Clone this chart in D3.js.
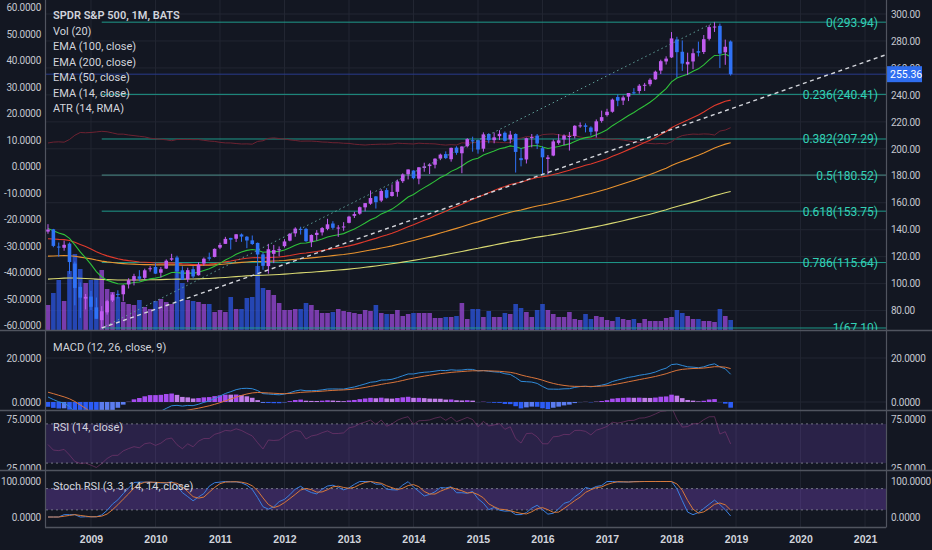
<!DOCTYPE html>
<html>
<head>
<meta charset="utf-8">
<script src="https://cdn.jsdelivr.net/npm/d3@7"></script>
<style>
  body { margin: 0; background: #131722; }
  svg { display: block; font-family: Roboto, "Open Sans", sans-serif; }
</style>
</head>
<body>
<div id="chart"></div>
<script>
// SPY monthly bars, May 2008 .. Dec 2018
const opens = [
  138.6, 140.3, 127.5, 126.6, 129.7, 114.9, 97.6, 88.9,
  90.4, 82.4, 72.9, 78.7, 87.5, 92.4, 92.1, 99.4, 102.3, 105.4, 104.3, 111.1,
  112.4, 108.1, 111.2, 117.8, 119.4, 109.9, 103.2, 110.7, 106.2, 114.9, 119.5, 119.8,
  126.7, 129.5, 133.9, 133.3, 136.5, 134.8, 132.1, 130.2, 121.7, 113.0, 122.1, 124.9,
  127.8, 131.9, 137.3, 140.6, 140.6, 131.0, 136.1, 138.0, 140.6, 144.6, 141.6, 142.2,
  145.1, 150.3, 151.9, 156.6, 159.3, 164.7, 161.6, 169.4, 165.0, 168.1, 176.0, 181.1,
  183.9, 177.9, 185.8, 187.2, 188.2, 192.8, 196.1, 192.3, 200.9, 196.7, 201.9, 206.4,
  206.4, 200.1, 211.0, 206.4, 209.4, 211.9, 207.0, 211.0, 193.1, 192.1, 208.2, 209.8,
  200.5, 192.5, 195.0, 204.4, 206.9, 209.1, 209.5, 217.2, 217.4, 215.8, 212.9, 220.7,
  225.0, 227.5, 238.4, 235.8, 238.7, 241.9, 242.9, 247.5, 247.9, 251.5, 258.0, 264.8,
  267.8, 281.1, 272.0, 262.6, 264.8, 272.4, 271.8, 281.6, 290.6, 291.2, 271.6, 279.6
];
const highs = [
  144.1, 140.6, 130.5, 131.9, 130.6, 116.4, 100.9, 92.3,
  94.6, 89.7, 83.3, 88.0, 93.3, 95.1, 99.3, 104.0, 107.3, 110.0, 111.1, 113.0,
  115.1, 112.3, 118.0, 122.1, 120.7, 112.9, 111.8, 113.0, 115.8, 119.4, 123.0, 126.1,
  130.3, 134.7, 134.0, 136.8, 137.2, 135.3, 135.7, 130.5, 123.1, 129.5, 128.7, 127.6,
  133.0, 137.5, 141.8, 142.2, 141.4, 136.5, 139.7, 142.0, 148.1, 146.3, 143.4, 145.6,
  150.3, 153.3, 157.2, 159.7, 169.1, 165.0, 170.0, 170.9, 173.6, 177.2, 181.8, 184.7,
  184.1, 186.4, 189.7, 189.3, 193.0, 196.4, 198.1, 200.9, 201.9, 201.9, 207.9, 209.0,
  206.9, 212.2, 211.6, 212.1, 213.8, 212.9, 213.3, 211.5, 200.6, 208.3, 211.0, 211.0,
  201.9, 195.4, 206.9, 210.9, 210.7, 212.5, 217.5, 219.6, 218.9, 216.7, 221.8, 228.3,
  229.7, 237.3, 240.3, 239.5, 240.8, 245.0, 248.0, 248.9, 252.3, 258.0, 266.1, 268.6,
  286.6, 283.1, 280.4, 271.3, 274.3, 279.5, 284.4, 291.7, 293.94, 292.9, 281.0, 280.4
];
const lows = [
  137.0, 127.0, 120.0, 124.4, 107.2, 83.9, 74.6, 80.9,
  80.4, 73.9, 67.1, 77.0, 86.4, 89.0, 86.9, 96.4, 98.7, 101.9, 102.9, 108.9,
  107.2, 104.6, 110.9, 116.8, 104.4, 102.9, 101.1, 104.0, 106.0, 113.2, 117.0, 119.5,
  125.6, 129.4, 125.3, 130.9, 131.0, 126.3, 128.7, 107.4, 110.3, 107.4, 115.2, 120.3,
  126.8, 131.4, 134.8, 136.4, 131.0, 127.1, 131.9, 135.7, 139.6, 140.1, 134.7, 139.2,
  144.7, 148.7, 151.1, 153.6, 158.5, 155.7, 160.5, 163.1, 164.5, 164.5, 174.7, 177.3,
  177.4, 173.7, 183.0, 181.3, 185.5, 191.6, 192.4, 190.5, 195.6, 181.9, 201.0, 197.9,
  196.4, 197.9, 204.1, 204.1, 206.5, 205.3, 204.0, 182.4, 187.0, 189.1, 201.1, 199.8,
  181.0, 181.1, 194.5, 203.1, 202.8, 198.7, 207.7, 215.6, 212.2, 209.8, 208.4, 219.4,
  223.9, 226.8, 231.6, 232.5, 235.4, 240.5, 240.9, 242.9, 246.4, 251.2, 255.5, 262.5,
  267.4, 252.9, 257.8, 254.7, 259.1, 268.5, 270.3, 280.4, 286.7, 259.9, 262.3, 254.3
];
const closes = [
  140.1, 128.0, 126.8, 128.8, 116.0, 96.8, 89.6, 90.2,
  82.8, 73.9, 79.5, 87.0, 91.9, 92.0, 98.8, 102.5, 105.6, 103.6, 109.9, 111.4,
  107.4, 110.7, 117.0, 118.8, 109.4, 102.9, 110.0, 105.3, 114.1, 118.5, 118.5, 125.8,
  128.7, 133.2, 132.6, 136.6, 134.9, 132.0, 129.4, 121.6, 113.2, 125.5, 124.9, 125.5,
  131.3, 137.0, 140.8, 139.9, 131.5, 136.1, 137.7, 141.2, 144.0, 141.4, 141.6, 142.4,
  149.7, 151.6, 156.7, 159.7, 163.5, 160.4, 168.7, 163.7, 168.0, 175.8, 181.0, 184.7,
  178.2, 186.3, 187.0, 188.3, 192.7, 195.7, 193.1, 200.7, 197.0, 201.7, 207.2, 205.5,
  199.5, 210.7, 206.4, 208.5, 211.1, 205.9, 210.5, 197.7, 191.6, 207.9, 208.7, 203.9,
  193.7, 193.6, 205.5, 206.3, 209.8, 209.5, 217.1, 217.4, 216.3, 212.6, 220.4, 223.5,
  227.5, 236.5, 235.7, 238.1, 241.4, 241.8, 246.8, 247.5, 251.2, 257.2, 265.0, 266.9,
  281.9, 271.7, 263.2, 264.5, 270.9, 271.3, 281.3, 290.3, 290.7, 270.6, 275.7, 255.36
];
// volume (BATS, relative units)
const volumes = [
  50, 74, 100, 58, 118, 152, 122, 94,
  100, 102, 120, 82, 76, 66, 56, 52, 50, 60, 46, 42,
  58, 62, 56, 52, 128, 94, 60, 58, 56, 52, 52, 36,
  40, 36, 66, 42, 42, 64, 66, 128, 84, 80, 70, 54,
  40, 40, 42, 42, 54, 50, 40, 34, 34, 36, 42, 38,
  36, 34, 32, 40, 38, 50, 34, 32, 32, 40, 28, 32,
  34, 34, 34, 34, 24, 24, 26, 26, 28, 54, 22, 42,
  42, 26, 38, 26, 26, 34, 32, 52, 44, 36, 26, 40,
  52, 40, 32, 26, 26, 36, 22, 20, 32, 22, 28, 26,
  20, 18, 26, 22, 20, 22, 14, 22, 18, 18, 18, 24,
  26, 40, 34, 28, 22, 22, 18, 18, 16, 42, 28, 20
];
const prevClose = 138.3;       // Apr 2008 close

// indicator state just before the first visible bar
const ema14Start = 141, ema50Start = 133, ema100Start = 120, ema200Start = 103;
const ema12Start = 140.5, ema26Start = 138.0, signalStart = 5.0;
const atrStart = 9.0;
const rsiGainStart = 3.6, rsiLossStart = 3.9;

// fib retracement (Mar 2009 low -> Sep 2018 high)
const fibRatios = [0, 0.236, 0.382, 0.5, 0.618, 0.786, 1];
const fibLevels = [293.94, 240.41, 207.29, 180.52, 153.75, 115.64, 67.10];
const fibStart = { bar: 10, price: 67.10 };
const fibEnd = { bar: 124, price: 293.94 };
// trend line through the 2009 and 2016 lows, extended right
const trendA = { bar: 10, price: 67.10 };
const trendB = { bar: 92, price: 181.02 };
const lastPrice = 255.36;

const yearLabels = ["2009", "2010", "2011", "2012", "2013", "2014", "2015",
                    "2016", "2017", "2018", "2019", "2020", "2021"];
const priceTicks = [80, 100, 120, 140, 160, 180, 200, 220, 240, 260, 280, 300];
const atrTicks = [-60, -50, -40, -30, -20, -10, 0, 10, 20, 30, 40, 50, 60];
const macdTicks = [0, 20];
const rsiTicks = [25, 75];
const stochTicks = [0, 100];

// ---- indicators
function ema(values, period, start) {
  const a = 2 / (period + 1);
  let e = start;
  return values.map(v => (e = e + a * (v - e)));
}
function rma(values, period, start) {
  let r = start;
  return values.map(v => (r = r + (v - r) / period));
}
function sma(values, period) {
  return values.map((v, i) => d3.mean(values.slice(Math.max(0, i - period + 1), i + 1)));
}

const prev = closes.map((c, i) => i === 0 ? prevClose : closes[i - 1]);
const tr = highs.map((h, i) => Math.max(h - lows[i], Math.abs(h - prev[i]), Math.abs(lows[i] - prev[i])));
const atr = rma(tr, 14, atrStart);

const ema14 = ema(closes, 14, ema14Start);
const ema50 = ema(closes, 50, ema50Start);
const ema100 = ema(closes, 100, ema100Start);
const ema200 = ema(closes, 200, ema200Start);

const e12 = ema(closes, 12, ema12Start);
const e26 = ema(closes, 26, ema26Start);
const macd = e12.map((v, i) => v - e26[i]);
const signal = ema(macd, 9, signalStart);
const hist = macd.map((v, i) => v - signal[i]);

const gains = closes.map((c, i) => Math.max(c - prev[i], 0));
const losses = closes.map((c, i) => Math.max(prev[i] - c, 0));
const avgG = rma(gains, 14, rsiGainStart);
const avgL = rma(losses, 14, rsiLossStart);
const rsi = avgG.map((g, i) => 100 - 100 / (1 + g / avgL[i]));
const stochRaw = rsi.map((r, i) => {
  const win = rsi.slice(Math.max(0, i - 13), i + 1);
  const lo = d3.min(win), hi = d3.max(win);
  return hi > lo ? 100 * (r - lo) / (hi - lo) : 0;
});
const stochK = sma(stochRaw, 3);
const stochD = sma(stochK, 3);

// ---- layout
const width = 932, height = 550;
const left = 46, right = 886;
const panes = {
  main: [0, 330], macd: [331, 410], rsi: [411, 470], stoch: [471, 527]
};

const svg = d3.select("#chart").append("svg")
  .attr("width", width).attr("height", height);
svg.append("rect").attr("width", width).attr("height", height).attr("fill", "#131722");

const defs = svg.append("defs");
Object.entries(panes).forEach(([k, [t, b]]) => {
  defs.append("clipPath").attr("id", "clip-" + k)
    .append("rect").attr("x", left).attr("y", t).attr("width", right - left).attr("height", b - t);
  defs.append("clipPath").attr("id", "axclip-" + k)
    .append("rect").attr("x", 0).attr("y", t - 2).attr("width", width).attr("height", b - t + 2);
});

const x = d3.scaleLinear().domain([-0.37, 155.9]).range([left, right]);
const yearBars = yearLabels.map((y, k) => 8 + 12 * k);

const yPrice = d3.scaleLinear().domain([300, 80]).range([14, 310.6]);
const yAtr = d3.scaleLinear().domain([60, -60]).range([7.3, 325.7]);
const yVol = d3.scaleLinear().domain([0, 200]).range([330, 230]);
const yMacd = d3.scaleLinear().domain([0, 20]).range([402, 358]);
const yRsi = d3.scaleLinear().domain([25, 75]).range([468, 419]);
const yStoch = d3.scaleLinear().domain([0, 100]).range([517, 481.5]);

const loc = d3.formatLocale({ decimal: ".", thousands: ",", grouping: [3], currency: ["$", ""], minus: "-" });
const fmt4 = loc.format(".4f"), fmt2 = loc.format(".2f");

const pane = k => svg.append("g").attr("clip-path", `url(#clip-${k})`);
const gMain = pane("main"), gMacd = pane("macd"), gRsi = pane("rsi"), gStoch = pane("stoch");
const paneGroups = { main: gMain, macd: gMacd, rsi: gRsi, stoch: gStoch };

// grid
const gridColor = "#222632";
Object.entries(panes).forEach(([k, [t, b]]) => {
  paneGroups[k].selectAll(".vgrid").data(yearBars).join("line")
    .attr("x1", d => x(d)).attr("x2", d => x(d)).attr("y1", t).attr("y2", b)
    .attr("stroke", gridColor).attr("stroke-width", 1);
});
gMain.selectAll(".hgrid").data(priceTicks).join("line")
  .attr("x1", left).attr("x2", right).attr("y1", d => yPrice(d)).attr("y2", d => yPrice(d))
  .attr("stroke", gridColor);
gMacd.selectAll(".hgrid").data(macdTicks).join("line")
  .attr("x1", left).attr("x2", right).attr("y1", d => yMacd(d)).attr("y2", d => yMacd(d))
  .attr("stroke", gridColor);

// volume
const upCol = "#c15cf0", downCol = "#2f72f6";
const isUp = i => closes[i] >= opens[i];
gMain.append("g").selectAll("rect").data(volumes).join("rect")
  .attr("x", (d, i) => x(i) - 2.3).attr("width", 4.6)
  .attr("y", d => yVol(d)).attr("height", d => yVol(0) - yVol(d))
  .attr("fill", (d, i) => isUp(i) ? "#9346d0" : "#2b52d8")
  .attr("opacity", 0.8);

// fib levels
const fibLine = "#1f9a8b", fibText = "#33d1b6";
gMain.append("g").selectAll("line").data(fibLevels).join("line")
  .attr("x1", x(fibStart.bar)).attr("x2", right)
  .attr("y1", d => yPrice(d)).attr("y2", d => yPrice(d))
  .attr("stroke", (d, i) => fibRatios[i] === 0.5 ? "#4d8f8a" : fibLine).attr("stroke-width", 1);
gMain.append("g").selectAll("text").data(fibLevels).join("text")
  .attr("x", 878).attr("y", d => yPrice(d) + 4.5).attr("text-anchor", "end")
  .attr("fill", fibText).attr("font-size", 12)
  .text((d, i) => `${fibRatios[i]}(${fmt2(d)})`);

// price line
gMain.append("line").attr("x1", left).attr("x2", right)
  .attr("y1", yPrice(lastPrice)).attr("y2", yPrice(lastPrice))
  .attr("stroke", "#283a8c").attr("stroke-width", 1);

// ATR on left scale
const lineOf = y => d3.line().x((d, i) => x(i)).y(d => y(d));
gMain.append("path").datum(atr).attr("d", lineOf(yAtr))
  .attr("fill", "none").attr("stroke", "#6e2231").attr("stroke-width", 1);

// EMAs
[[ema200, "#d8d872"], [ema100, "#e8922e"], [ema50, "#e03a2c"], [ema14, "#2fc23a"]].forEach(([s, c]) => {
  gMain.append("path").datum(s).attr("d", lineOf(yPrice))
    .attr("fill", "none").attr("stroke", c).attr("stroke-width", 1.1);
});

// candles
const candles = gMain.append("g").selectAll("g").data(closes).join("g");
candles.append("line")
  .attr("x1", (d, i) => x(i)).attr("x2", (d, i) => x(i))
  .attr("y1", (d, i) => yPrice(highs[i])).attr("y2", (d, i) => yPrice(lows[i]))
  .attr("stroke", (d, i) => isUp(i) ? upCol : downCol).attr("stroke-width", 1);
candles.append("rect")
  .attr("x", (d, i) => x(i) - 1.8).attr("width", 3.6)
  .attr("y", (d, i) => yPrice(Math.max(opens[i], d)))
  .attr("height", (d, i) => Math.max(1, Math.abs(yPrice(opens[i]) - yPrice(d))))
  .attr("fill", (d, i) => isUp(i) ? upCol : downCol);

// fib diagonal (dotted) and trend line (dashed)
gMain.append("line")
  .attr("x1", x(fibStart.bar)).attr("y1", yPrice(fibStart.price))
  .attr("x2", x(fibEnd.bar)).attr("y2", yPrice(fibEnd.price))
  .attr("stroke", "#5e9f98").attr("stroke-width", 1).attr("stroke-dasharray", "1.5,3");
const slope = (trendB.price - trendA.price) / (trendB.bar - trendA.bar);
const endBar = x.domain()[1];
gMain.append("line")
  .attr("x1", x(trendA.bar)).attr("y1", yPrice(trendA.price))
  .attr("x2", x(endBar)).attr("y2", yPrice(trendA.price + slope * (endBar - trendA.bar)))
  .attr("stroke", "#d4d6dc").attr("stroke-width", 1.4).attr("stroke-dasharray", "4,3.5");

// MACD pane
gMacd.append("g").selectAll("rect").data(hist).join("rect")
  .attr("x", (d, i) => x(i) - 2.3).attr("width", 4.6)
  .attr("y", d => Math.min(yMacd(0), yMacd(d)))
  .attr("height", d => Math.abs(yMacd(d) - yMacd(0)))
  .attr("fill", (d, i) => {
    const grow = i === 0 || Math.abs(d) >= Math.abs(hist[i - 1]);
    return d >= 0 ? (grow ? "#a64cf0" : "#c07ee8") : (grow ? "#2c5cf6" : "#5b7cf0");
  });
gMacd.append("path").datum(macd).attr("d", lineOf(yMacd))
  .attr("fill", "none").attr("stroke", "#2f8ad8").attr("stroke-width", 1);
gMacd.append("path").datum(signal).attr("d", lineOf(yMacd))
  .attr("fill", "none").attr("stroke", "#d9743a").attr("stroke-width", 1);

// RSI pane
gRsi.append("rect").attr("x", left).attr("width", right - left)
  .attr("y", yRsi(70)).attr("height", yRsi(30) - yRsi(70))
  .attr("fill", "#7e4fd0").attr("opacity", 0.22);
[70, 30].forEach(v => gRsi.append("line").attr("x1", left).attr("x2", right)
  .attr("y1", yRsi(v)).attr("y2", yRsi(v))
  .attr("stroke", "#8a8d98").attr("stroke-dasharray", "2,3").attr("opacity", 0.8));
gRsi.append("path").datum(rsi).attr("d", lineOf(yRsi))
  .attr("fill", "none").attr("stroke", "#8a3a78").attr("stroke-width", 1).attr("opacity", 0.55);

// Stoch RSI pane
gStoch.append("rect").attr("x", left).attr("width", right - left)
  .attr("y", yStoch(80)).attr("height", yStoch(20) - yStoch(80))
  .attr("fill", "#8a4fe0").attr("opacity", 0.3);
[80, 20].forEach(v => gStoch.append("line").attr("x1", left).attr("x2", right)
  .attr("y1", yStoch(v)).attr("y2", yStoch(v))
  .attr("stroke", "#8a8d98").attr("stroke-dasharray", "2,3").attr("opacity", 0.8));
gStoch.append("path").datum(stochK).attr("d", lineOf(yStoch))
  .attr("fill", "none").attr("stroke", "#3a7fe0").attr("stroke-width", 1);
gStoch.append("path").datum(stochD).attr("d", lineOf(yStoch))
  .attr("fill", "none").attr("stroke", "#d8793a").attr("stroke-width", 1);

// ---- axes
const axisText = "#c3c6ce";
function styleAxis(g) {
  g.select(".domain").remove();
  g.selectAll("text").attr("fill", axisText).attr("font-size", 10)
    .attr("letter-spacing", -0.25).attr("font-family", "Roboto, sans-serif");
}
function axisHolder(k) {
  // only the RSI scale is cut by its pane edge, as in the source
  const g = svg.append("g");
  if (k === "rsi" || k === "main") g.attr("clip-path", `url(#axclip-${k})`);
  return g;
}
function rightAxis(k, scale, ticks, fmt) {
  axisHolder(k).append("g").attr("transform", `translate(${right},0)`)
    .call(d3.axisRight(scale).tickValues(ticks).tickFormat(fmt).tickSize(0).tickPadding(5))
    .call(styleAxis);
}
function leftAxis(k, scale, ticks) {
  axisHolder(k).append("g").attr("transform", `translate(${left},0)`)
    .call(d3.axisLeft(scale).tickValues(ticks).tickFormat(fmt4).tickSize(0).tickPadding(5))
    .call(styleAxis);
}
rightAxis("main", yPrice, priceTicks, fmt2);
leftAxis("main", yAtr, atrTicks);
rightAxis("macd", yMacd, macdTicks, fmt4); leftAxis("macd", yMacd, macdTicks);
rightAxis("rsi", yRsi, rsiTicks, fmt4); leftAxis("rsi", yRsi, rsiTicks);
rightAxis("stoch", yStoch, stochTicks, fmt4); leftAxis("stoch", yStoch, stochTicks);

// last price label
const ly = yPrice(lastPrice);
svg.append("rect").attr("x", 887).attr("y", ly - 8).attr("width", 35).attr("height", 16)
  .attr("fill", "#2f6ef0");
svg.append("text").attr("x", 890).attr("y", ly + 4).attr("fill", "#ffffff")
  .attr("font-size", 10.5).text(fmt2(lastPrice));

// time axis
svg.append("g").attr("transform", `translate(0,${panes.stoch[1]})`)
  .call(d3.axisBottom(x).tickValues(yearBars).tickFormat((d, i) => yearLabels[i]).tickSize(0).tickPadding(9))
  .call(g => {
    g.select(".domain").remove();
    g.selectAll("text").attr("fill", "#d1d4dc").attr("font-size", 10.5).attr("font-weight", "bold");
  });

// pane borders
const border = "#50545f";
[330.5, 410.5, 470.5].forEach(y => svg.append("line")
  .attr("x1", 0).attr("x2", width).attr("y1", y).attr("y2", y)
  .attr("stroke", border).attr("stroke-width", 1.5));
svg.append("line").attr("x1", left - 1).attr("x2", right).attr("y1", 527.5).attr("y2", 527.5)
  .attr("stroke", border).attr("stroke-width", 1.5);
[left - 0.5, right + 0.5].forEach(xx => svg.append("line")
  .attr("x1", xx).attr("x2", xx).attr("y1", 0).attr("y2", 527.5)
  .attr("stroke", border).attr("stroke-width", 1.2));

// legends
const legend = svg.append("g").attr("fill", "#d1d4dc").attr("font-size", 11);
legend.append("text").attr("x", 53).attr("y", 19).attr("font-weight", 600)
  .text("SPDR S&P 500, 1M, BATS");
["Vol (20)", "EMA (100, close)", "EMA (200, close)", "EMA (50, close)", "EMA (14, close)", "ATR (14, RMA)"]
  .forEach((t, i) => legend.append("text").attr("x", 53).attr("y", 34.5 + i * 15.5).text(t));
legend.append("text").attr("x", 53).attr("y", 351).text("MACD (12, 26, close, 9)");
legend.append("text").attr("x", 53).attr("y", 431).text("RSI (14, close)");
legend.append("text").attr("x", 53).attr("y", 490).text("Stoch RSI (3, 3, 14, 14, close)");
</script>
</body>
</html>
